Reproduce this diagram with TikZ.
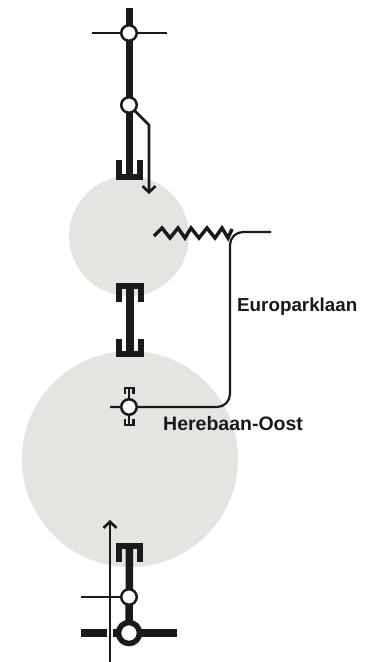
\documentclass[tikz,border=0pt]{standalone}
\usepackage{tkz-euclide}
\usepackage{fontspec}
\setmainfont{Liberation Sans}
\usetikzlibrary{arrows.meta}
\definecolor{zone}{HTML}{E3E5E0}
\definecolor{rail}{HTML}{1A1A1A}
\tikzset{
  track/.style={color=rail,line width=7.5pt,line cap=butt},
  cable/.style={color=rail,line width=2.7pt,line cap=butt},
  crossbar/.style={color=rail,line width=7.5pt,line cap=butt},
  buffer/.style={draw=rail,line width=6pt,line cap=butt,miter limit=10},
  smallbuffer/.style={draw=rail,line width=2.2pt,line cap=butt},
  stop/.style={circle,draw=rail,fill=white,line width=2.5pt,minimum size=15.5pt,inner sep=0pt},
  bigstop/.style={circle,draw=rail,fill=white,line width=5.5pt,minimum size=21pt,inner sep=0pt},
  place/.style={font=\bfseries\fontsize{18.8}{20}\selectfont,text=rail,anchor=west,inner sep=0pt}
}
\begin{document}
\begin{tikzpicture}[x=1pt,y=-1pt]
                \useasboundingbox (0,0) rectangle (374,662);
                \tkzDefPoint(129,236){Oa}
                \tkzDefPoint(189,236){Ra}
                \tkzDefPoint(130,459){Ob}
                \tkzDefPoint(238,459){Rb}
                \tkzDrawCircle[fill=zone,draw=none](Oa,Ra)
                \tkzDrawCircle[fill=zone,draw=none](Ob,Rb)
                % upper track
                \tkzDefPoint(129.5,8){Ta}
                \tkzDefPoint(129,33){Tb}
                \tkzDefPoint(129,105){Tc}
                \tkzDefPoint(129.5,177){Td}
                \tkzDrawSegment[track](Ta,Td)
                \draw[buffer] (119,160) -- (119,177) -- (140,177) -- (140,160);
                \tkzDefPoint(92,33){La}
                \tkzDefPoint(167,33){Lb}
                \tkzDrawSegment[cable](La,Lb)
                \draw[cable,-{Straight Barb[length=6pt,width=13pt]}] (Tc) -- (149,125) -- (149,194);
                \node[stop] (StopA) at (Tb) {};
                \node[stop] (StopB) at (Tc) {};
                % middle piece
                \tkzDefPoint(130,286){Ma}
                \tkzDefPoint(130,354){Mb}
                \tkzDrawSegment[track,line width=8.5pt](Ma,Mb)
                \draw[buffer] (119,302) -- (119,286) -- (141,286) -- (141,302);
                \draw[buffer] (119,339) -- (119,354) -- (141,354) -- (141,339);
                % cable to Europarklaan
                \draw[color=rail,line width=3.5pt] (154,236) -- (162,228) -- (170,238) -- (178,228) -- (185,238)
                  -- (191,228) -- (199,238) -- (207,228) -- (215,238) -- (222,228) -- (228,238) -- (232,229);
                \draw[cable,line width=2.2pt,rounded corners=13pt] (110,407) -- (230,407) -- (230,232) -- (271,232);
                \tkzDefPoint(129,388){Sa}
                \tkzDefPoint(129,407){Sb}
                \tkzDefPoint(129,425){Sc}
                \tkzDrawSegment[cable](Sa,Sc)
                \draw[smallbuffer] (125,394) -- (125,388) -- (133.5,388) -- (133.5,394);
                \draw[smallbuffer] (125,419) -- (125,425) -- (133.5,425) -- (133.5,419);
                \node[stop] (StopC) at (Sb) {};
                % lower track
                \tkzDefPoint(129.5,546){Ba}
                \tkzDefPoint(129,597){Bb}
                \tkzDefPoint(129,633){Bc}
                \tkzDrawSegment[track](Ba,Bc)
                \draw[buffer] (119,562) -- (119,546) -- (140,546) -- (140,562);
                \tkzDefPoint(81,597){Lc}
                \tkzDrawSegment[cable](Lc,Bb)
                \tkzDefPoint(81,633){Ka}
                \tkzDefPoint(107,633){Kb}
                \tkzDefPoint(113,633){Kc}
                \tkzDefPoint(177,633){Kd}
                \tkzDrawSegment[crossbar](Ka,Kb)
                \tkzDrawSegment[crossbar](Kc,Kd)
                \node[stop] (StopD) at (Bb) {};
                \node[bigstop] (StopE) at (Bc) {};
                \tkzDefPoint(110,662){Aa}
                \tkzDefPoint(110,520){Ab}
                \draw[cable,-{Straight Barb[length=6pt,width=13pt]}] (Aa) -- (Ab);
                % names
                \node[place] (Euro) at (237,307) {Europarklaan};
                \node[place,font=\bfseries\fontsize{19.5}{20}\selectfont] (Here) at (163,424) {Herebaan-Oost};
            \end{tikzpicture}
\end{document}
